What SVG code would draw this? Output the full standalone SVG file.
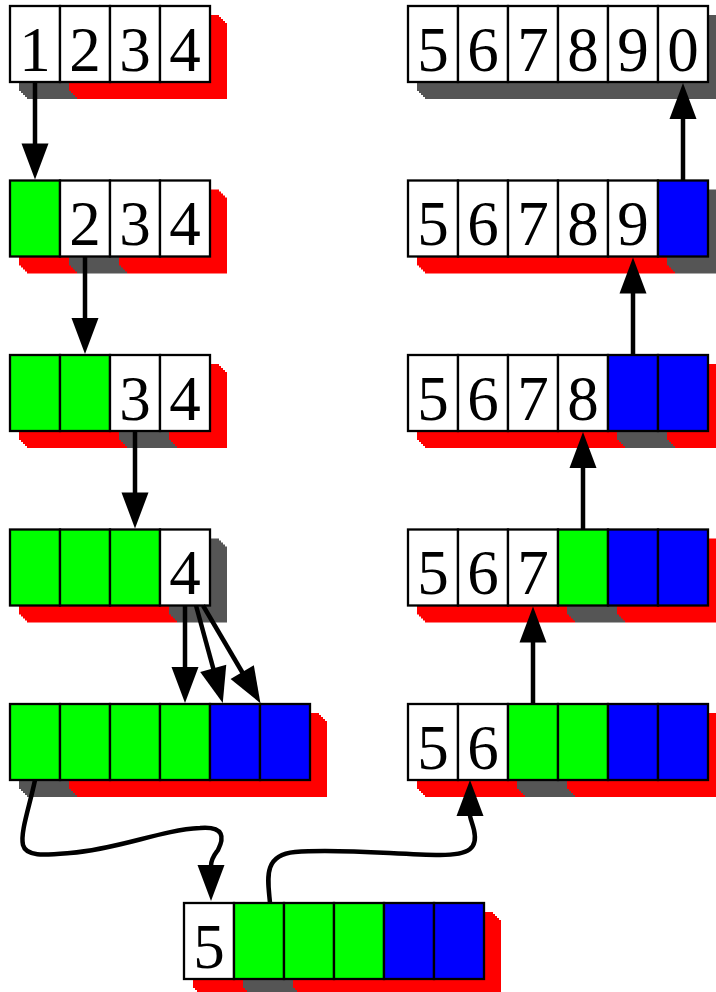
<svg xmlns="http://www.w3.org/2000/svg" xmlns:xlink="http://www.w3.org/1999/xlink" width="716" height="992" viewBox="0 0 716 992">
<style>
.r{fill:#ff0000}
.g{fill:#555555}
.c{stroke:#000;stroke-width:2.3}
.w{fill:#fff}
.gr{fill:#00ff00}
.b{fill:#0000ff}
text{font-family:"Liberation Serif","DejaVu Serif",serif;font-size:63px;text-anchor:middle;fill:#000}
.ln{fill:none;stroke:#000;stroke-width:4.5;marker-end:url(#ah)}
</style>
<defs>
<path id="sh" d="M9,9H59V11H61V13H63V15H65V17H67V93H17V91H15V89H13V87H11V85H9Z"/>
<marker id="ah" markerUnits="userSpaceOnUse" viewBox="0 0 40 30" markerWidth="40" markerHeight="30" refX="1" refY="15" orient="auto" overflow="visible">
<path d="M0,1.5 L36,15 L0,28.5 Z" fill="#000"/>
</marker>
</defs>

<g id="row-l1">
<use href="#sh" x="10" y="6" class="g"/><use href="#sh" x="60" y="6" class="r"/><use href="#sh" x="110" y="6" class="r"/><use href="#sh" x="160" y="6" class="r"/>
<rect class="c w" x="10" y="6" width="50" height="76"/><rect class="c w" x="60" y="6" width="50" height="76"/><rect class="c w" x="110" y="6" width="50" height="76"/><rect class="c w" x="160" y="6" width="50" height="76"/>
<text x="35" y="70.5">1</text><text x="85" y="70.5">2</text><text x="135" y="70.5">3</text><text x="185" y="70.5">4</text>
</g>

<g id="row-l2">
<use href="#sh" x="10" y="180.5" class="r"/><use href="#sh" x="60" y="180.5" class="g"/><use href="#sh" x="110" y="180.5" class="r"/><use href="#sh" x="160" y="180.5" class="r"/>
<rect class="c gr" x="10" y="180.5" width="50" height="76"/><rect class="c w" x="60" y="180.5" width="50" height="76"/><rect class="c w" x="110" y="180.5" width="50" height="76"/><rect class="c w" x="160" y="180.5" width="50" height="76"/>
<text x="85" y="245">2</text><text x="135" y="245">3</text><text x="185" y="245">4</text>
</g>

<g id="row-l3">
<use href="#sh" x="10" y="355" class="r"/><use href="#sh" x="60" y="355" class="r"/><use href="#sh" x="110" y="355" class="g"/><use href="#sh" x="160" y="355" class="r"/>
<rect class="c gr" x="10" y="355" width="50" height="76"/><rect class="c gr" x="60" y="355" width="50" height="76"/><rect class="c w" x="110" y="355" width="50" height="76"/><rect class="c w" x="160" y="355" width="50" height="76"/>
<text x="135" y="419.5">3</text><text x="185" y="419.5">4</text>
</g>

<g id="row-l4">
<use href="#sh" x="10" y="529.5" class="r"/><use href="#sh" x="60" y="529.5" class="r"/><use href="#sh" x="110" y="529.5" class="r"/><use href="#sh" x="160" y="529.5" class="g"/>
<rect class="c gr" x="10" y="529.5" width="50" height="76"/><rect class="c gr" x="60" y="529.5" width="50" height="76"/><rect class="c gr" x="110" y="529.5" width="50" height="76"/><rect class="c w" x="160" y="529.5" width="50" height="76"/>
<text x="185" y="594">4</text>
</g>

<g id="row-l5">
<use href="#sh" x="10" y="704" class="g"/><use href="#sh" x="60" y="704" class="r"/><use href="#sh" x="110" y="704" class="r"/><use href="#sh" x="160" y="704" class="r"/><use href="#sh" x="210" y="704" class="r"/><use href="#sh" x="260" y="704" class="r"/>
<rect class="c gr" x="10" y="704" width="50" height="76"/><rect class="c gr" x="60" y="704" width="50" height="76"/><rect class="c gr" x="110" y="704" width="50" height="76"/><rect class="c gr" x="160" y="704" width="50" height="76"/><rect class="c b" x="210" y="704" width="50" height="76"/><rect class="c b" x="260" y="704" width="50" height="76"/>
</g>

<g id="row-bottom">
<use href="#sh" x="184" y="903" class="r"/><use href="#sh" x="234" y="903" class="g"/><use href="#sh" x="284" y="903" class="r"/><use href="#sh" x="334" y="903" class="r"/><use href="#sh" x="384" y="903" class="r"/><use href="#sh" x="434" y="903" class="r"/>
<rect class="c w" x="184" y="903" width="50" height="76"/><rect class="c gr" x="234" y="903" width="50" height="76"/><rect class="c gr" x="284" y="903" width="50" height="76"/><rect class="c gr" x="334" y="903" width="50" height="76"/><rect class="c b" x="384" y="903" width="50" height="76"/><rect class="c b" x="434" y="903" width="50" height="76"/>
<text x="209" y="967.5">5</text>
</g>

<g id="row-r5">
<use href="#sh" x="408" y="704" class="r"/><use href="#sh" x="458" y="704" class="r"/><use href="#sh" x="508" y="704" class="g"/><use href="#sh" x="558" y="704" class="r"/><use href="#sh" x="608" y="704" class="r"/><use href="#sh" x="658" y="704" class="r"/>
<rect class="c w" x="408" y="704" width="50" height="76"/><rect class="c w" x="458" y="704" width="50" height="76"/><rect class="c gr" x="508" y="704" width="50" height="76"/><rect class="c gr" x="558" y="704" width="50" height="76"/><rect class="c b" x="608" y="704" width="50" height="76"/><rect class="c b" x="658" y="704" width="50" height="76"/>
<text x="433" y="768.5">5</text><text x="483" y="768.5">6</text>
</g>

<g id="row-r4">
<use href="#sh" x="408" y="529.5" class="r"/><use href="#sh" x="458" y="529.5" class="r"/><use href="#sh" x="508" y="529.5" class="r"/><use href="#sh" x="558" y="529.5" class="g"/><use href="#sh" x="608" y="529.5" class="r"/><use href="#sh" x="658" y="529.5" class="r"/>
<rect class="c w" x="408" y="529.5" width="50" height="76"/><rect class="c w" x="458" y="529.5" width="50" height="76"/><rect class="c w" x="508" y="529.5" width="50" height="76"/><rect class="c gr" x="558" y="529.5" width="50" height="76"/><rect class="c b" x="608" y="529.5" width="50" height="76"/><rect class="c b" x="658" y="529.5" width="50" height="76"/>
<text x="433" y="594">5</text><text x="483" y="594">6</text><text x="533" y="594">7</text>
</g>

<g id="row-r3">
<use href="#sh" x="408" y="355" class="r"/><use href="#sh" x="458" y="355" class="r"/><use href="#sh" x="508" y="355" class="r"/><use href="#sh" x="558" y="355" class="r"/><use href="#sh" x="608" y="355" class="g"/><use href="#sh" x="658" y="355" class="r"/>
<rect class="c w" x="408" y="355" width="50" height="76"/><rect class="c w" x="458" y="355" width="50" height="76"/><rect class="c w" x="508" y="355" width="50" height="76"/><rect class="c w" x="558" y="355" width="50" height="76"/><rect class="c b" x="608" y="355" width="50" height="76"/><rect class="c b" x="658" y="355" width="50" height="76"/>
<text x="433" y="419.5">5</text><text x="483" y="419.5">6</text><text x="533" y="419.5">7</text><text x="583" y="419.5">8</text>
</g>

<g id="row-r2">
<use href="#sh" x="408" y="180.5" class="r"/><use href="#sh" x="458" y="180.5" class="r"/><use href="#sh" x="508" y="180.5" class="r"/><use href="#sh" x="558" y="180.5" class="r"/><use href="#sh" x="608" y="180.5" class="r"/><use href="#sh" x="658" y="180.5" class="g"/>
<rect class="c w" x="408" y="180.5" width="50" height="76"/><rect class="c w" x="458" y="180.5" width="50" height="76"/><rect class="c w" x="508" y="180.5" width="50" height="76"/><rect class="c w" x="558" y="180.5" width="50" height="76"/><rect class="c w" x="608" y="180.5" width="50" height="76"/><rect class="c b" x="658" y="180.5" width="50" height="76"/>
<text x="433" y="245">5</text><text x="483" y="245">6</text><text x="533" y="245">7</text><text x="583" y="245">8</text><text x="633" y="245">9</text>
</g>

<g id="row-r1">
<use href="#sh" x="408" y="6" class="g"/><use href="#sh" x="458" y="6" class="g"/><use href="#sh" x="508" y="6" class="g"/><use href="#sh" x="558" y="6" class="g"/><use href="#sh" x="608" y="6" class="g"/><use href="#sh" x="658" y="6" class="g"/>
<rect class="c w" x="408" y="6" width="50" height="76"/><rect class="c w" x="458" y="6" width="50" height="76"/><rect class="c w" x="508" y="6" width="50" height="76"/><rect class="c w" x="558" y="6" width="50" height="76"/><rect class="c w" x="608" y="6" width="50" height="76"/><rect class="c w" x="658" y="6" width="50" height="76"/>
<text x="433" y="70.5">5</text><text x="483" y="70.5">6</text><text x="533" y="70.5">7</text><text x="583" y="70.5">8</text><text x="633" y="70.5">9</text><text x="683" y="70.5">0</text>
</g>

<g id="connectors">
<path class="ln" d="M35,82 V144.5"/>
<path class="ln" d="M85,256.5 V319"/>
<path class="ln" d="M135,431 V493.5"/>
<path class="ln" d="M185,605.5 V668"/>
<path class="ln" d="M196,605.5 L213.5,669.3"/>
<path class="ln" d="M203,605.5 L242.7,673"/>
<path class="ln" d="M35,780 C30,805 20,832 23,845 C26,857 45,855 70,853 C120,849 160,830 200,828 C225,826 224,838 218,850 C216,853 211,858 211,866"/>
<path class="ln" d="M270,903 C268,880 262,855 295,852 C340,848 400,855 440,855 C470,855 478,848 474,830 C472,822 470,818 470,815"/>
<path class="ln" d="M533,704 V641.5"/>
<path class="ln" d="M583,529.5 V467"/>
<path class="ln" d="M633,355 V292.5"/>
<path class="ln" d="M683,180.5 V118"/>
</g>
</svg>
